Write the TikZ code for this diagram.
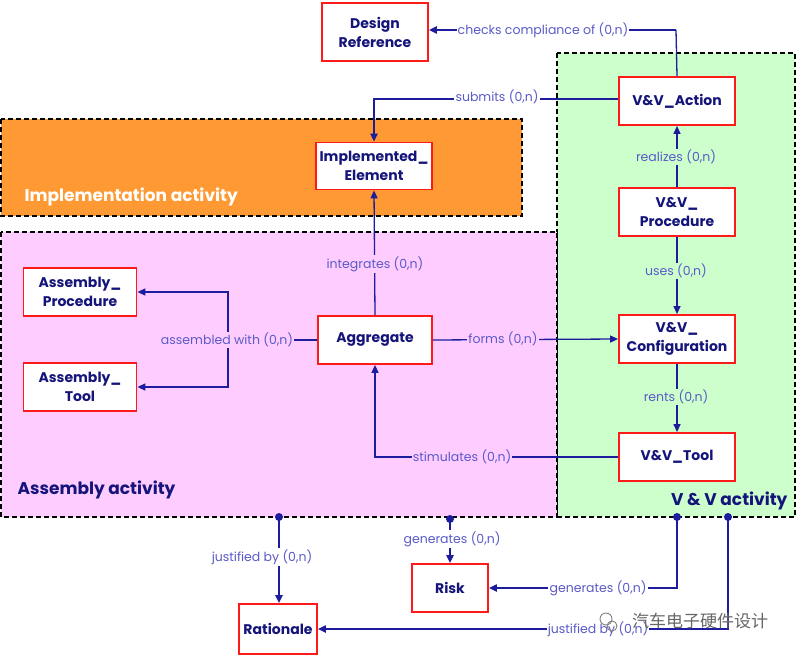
\documentclass[tikz,border=0pt]{standalone}
\usepackage{fontspec}
\setmainfont{Poppins}
\newfontfamily\cjk{Noto Sans CJK SC}
\usetikzlibrary{arrows.meta}
\definecolor{nodetxt}{HTML}{14147A}
\definecolor{lbl}{HTML}{5A5AC8}
\definecolor{ln}{HTML}{1C1C9C}
\definecolor{pinkbg}{HTML}{FFCCFF}
\definecolor{greenbg}{HTML}{CCFFCC}
\definecolor{orangebg}{HTML}{FF9933}
\definecolor{boxred}{HTML}{FF1A1A}
\tikzset{
  entity/.style={draw=boxred, line width=1.8pt, fill=white, text=nodetxt,
    font=\bfseries\fontsize{14}{19}\selectfont, align=center, inner sep=0pt,
    minimum width=116pt, minimum height=48pt},
  rel/.style={text=lbl, font=\fontsize{12.5}{14}\selectfont, inner sep=1.2pt},
  area/.style={draw=black, dash pattern=on 5pt off 3pt, line width=1.5pt},
  wire/.style={draw=ln, line width=1.3pt},
  bold wire/.style={draw=ln, line width=2.6pt},
  tip/.style={-{Triangle[length=8pt,width=7pt]}},
  dot/.style={circle, fill=ln, inner sep=0pt, minimum size=8pt},
  grp/.style={font=\bfseries\fontsize{17}{20}\selectfont}
}
\begin{document}
\begin{tikzpicture}[x=1pt,y=-1pt]
\useasboundingbox (0,0) rectangle (797,655);
% activity areas
\path[area, fill=greenbg] (557,53) rectangle (795,517);
\path[area, fill=pinkbg] (1,232) rectangle (557,517);
\path[area, fill=orangebg] (1,119) rectangle (522,216);
\node[grp, text=white, anchor=west] (impllbl) at (21,197) {Implementation activity};
\node[grp, text=nodetxt, anchor=west] (asslbl) at (14,490) {Assembly activity};
\node[grp, text=nodetxt, anchor=east] (vvlbl) at (791,501) {V \& V activity};

% entities
\node[entity, minimum width=106pt, minimum height=58pt] (dr) at (375,32) {Design\\Reference};
\node[entity] (act) at (677,101) {V\&V\_Action};
\node[entity, minimum height=47pt] (impl) at (374,166) {Implemented\_\\Element};
\node[entity] (proc) at (677,212) {V\&V\_\\Procedure};
\node[entity] (conf) at (677,339) {V\&V\_\\Configuration};
\node[entity] (vtool) at (677,457) {V\&V\_Tool};
\node[entity, minimum width=114pt] (agg) at (375,340) {Aggregate};
\node[entity, minimum width=113pt] (ap) at (80,292) {Assembly\_\\Procedure};
\node[entity, minimum width=113pt] (at) at (80,387) {Assembly\_\\Tool};
\node[entity, minimum width=76pt] (risk) at (450,588) {Risk};
\node[entity, minimum width=78pt, minimum height=50pt] (rat) at (278,629) {Rationale};

% coordinates
\coordinate (cc) at (676,30);
\coordinate (sb) at (375,99);
\coordinate (aw) at (228,340);
\coordinate (d1) at (279,517);
\coordinate (d2) at (450,519);
\coordinate (d3) at (677,517);
\coordinate (d4) at (728,517);

% connectors
\draw[wire] (act.north) -- (cc);
\draw[bold wire, tip] (cc) -- (dr.east |- cc);
\draw[wire] (act.west |- sb) -- (557,99);
\draw[bold wire, tip] (557,99) -| (impl.north);
\draw[wire, tip] (proc.north) -- (act.south);
\draw[wire, tip] (proc.south) -- (conf.north);
\draw[wire, tip] (conf.south) -- (vtool.north);
\draw[wire, tip] (agg.north) -- (impl.south);
\draw[wire, tip] (agg.east) -- (conf.west);
\draw[wire, tip] (vtool.west) -| (agg.south);
\draw[wire] (agg.west) -- (aw);
\draw[wire, tip] (aw) |- (ap.east);
\draw[wire, tip] (aw) |- (at.east);
\draw[bold wire, tip] (d1) -- (d1 |- rat.north);
\draw[bold wire, tip] (d2) -- (risk.north);
\draw[bold wire, tip] (d3) |- (risk.east);
\draw[bold wire, tip] (d4) |- (rat.east);
\foreach \d in {d1,d2,d3,d4} \node[dot] at (\d) {};

% relation labels
\node[rel, fill=white] (l1) at (543,30) {checks compliance of (0,n)};
\node[rel, fill=white] (l2) at (497,97) {submits (0,n)};
\node[rel, fill=greenbg] (l3) at (676,157) {realizes (0,n)};
\node[rel, fill=greenbg] (l4) at (676,271) {uses (0,n)};
\node[rel, fill=greenbg] (l5) at (676,397) {rents (0,n)};
\node[rel, fill=pinkbg] (l6) at (375,264) {integrates (0,n)};
\node[rel, fill=pinkbg] (l7) at (503,339) {forms (0,n)};
\node[rel, fill=pinkbg] (l8) at (462,457) {stimulates (0,n)};
\node[rel, fill=pinkbg] (l9) at (227,340) {assembled with (0,n)};
\node[rel, fill=white] (l10) at (262,557) {justified by (0,n)};
\node[rel, fill=white] (l11) at (452,539) {generates (0,n)};
\node[rel, fill=white] (l12) at (598,588) {generates (0,n)};
\node[rel, fill=white] (l13) at (598,629) {justified by (0,n)};

% watermark
\draw[black!50, line width=0.9pt] (606,619) circle (6pt);
\draw[black!50, line width=0.9pt] (612,626) circle (5pt);
\node[text=black!60, font=\cjk\fontsize{17}{19}\selectfont] (wm) at (700,621) {汽车电子硬件设计};
\end{tikzpicture}
\end{document}
